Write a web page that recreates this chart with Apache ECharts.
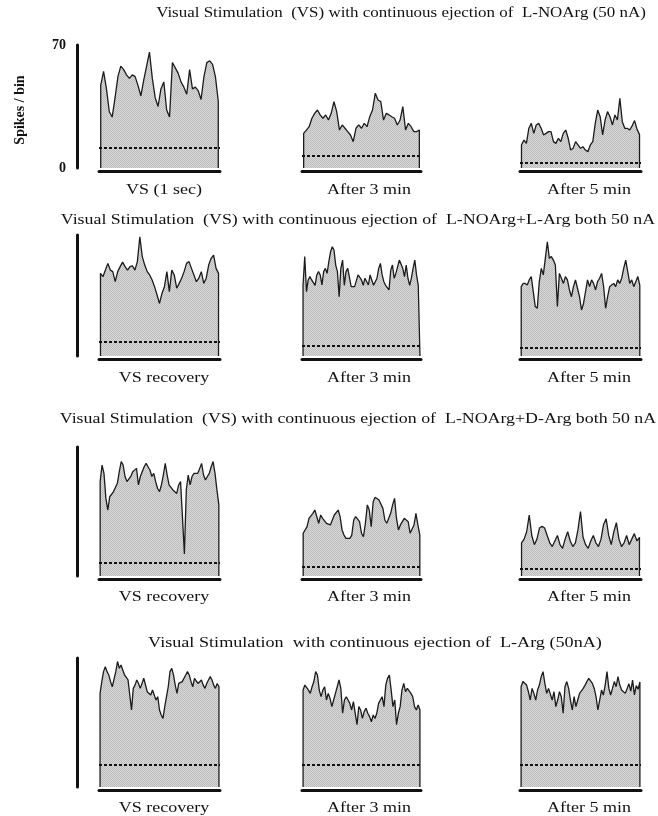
<!DOCTYPE html>
<html><head><meta charset="utf-8">
<script src="https://cdn.jsdelivr.net/npm/echarts@6/dist/echarts.min.js"></script>
<style>html,body{margin:0;padding:0;background:#fff}#c{width:658px;height:816px}</style>
</head><body><div id="c"></div>
<script>
// ---------- text ----------
const rowTitles = [
  "Visual Stimulation  (VS) with continuous ejection of  L-NOArg (50 nA)",
  "Visual Stimulation  (VS) with continuous ejection of  L-NOArg+L-Arg both 50 nA",
  "Visual Stimulation  (VS) with continuous ejection of  L-NOArg+D-Arg both 50 nA",
  "Visual Stimulation  with continuous ejection of  L-Arg (50nA)"
];
const panelLabels = [
  ["VS (1 sec)", "After 3 min", "After 5 min"],
  ["VS recovery", "After 3 min", "After 5 min"],
  ["VS recovery", "After 3 min", "After 5 min"],
  ["VS recovery", "After 3 min", "After 5 min"]
];
const yTicks = [0, 70];
const yAxisName = "Spikes / bin";

// ---------- data (spikes / bin) ----------
const r1c1 = [47,55,45,32,29,40,52,58,56,53,51,53,52,47,41,50,58,66,51,40,35,45,49,33,29,60,57,54,49,46,42,56,45,46,44,39,52,60,61,59,52,38];
const r1c2 = [19.7,21.6,23.5,28.3,31.1,33,30.2,28.3,30.2,27.3,31.1,37.8,32.1,21.6,24.5,22.6,20.7,18.8,15,22.6,24.5,22.6,25.4,23.5,29.2,33,42.5,38.7,37.8,27.3,31.1,30.2,29.2,28.3,24.5,27.3,34.9,21.6,25.4,23.5,20.7,20.7,21.6];
const r1c3 = [13.1,15.9,14,22.6,25.4,19.7,24.5,25.4,22.6,18.8,19.7,20.7,20.7,15,14,16.9,15,19.7,21.6,16.9,10.2,11.2,15,13.1,11.2,12.1,10.2,9.3,13.1,15,25.4,33,29.2,18.8,27.3,32.1,29.2,24.5,30.2,27.3,39.7,26.3,22.6,22.6,21.6,24,27,22,19];
const r2c1 = [47.8,45.9,49.7,53.6,49.7,48.8,43,48.8,51.7,54.3,51.7,49.7,51.7,52.2,49.7,54.6,69,57.5,52.6,48.8,46.9,44,40.1,35.3,30.4,36.2,40.1,48.8,37.2,49.7,46.9,39.2,42,45,48.8,53.6,54.6,50.7,46.9,43,45,48.8,42,45,52.6,56.5,58.4,50.7,47.8];
const r2c2 = [40.9,57.5,37.2,44,45.9,44,44,40.9,46.9,48.8,46.9,41.1,48.8,50.7,47.8,54.6,60.3,63.2,61.3,52.6,48.8,34.3,50.7,55.5,40.9,48.8,50.7,50.7,40.1,40.9,40.1,39.2,46.9,45.9,44,40.9,45,45.9,41.1,46.9,47.8,40.9,40.1,45,50.7,53.6,46.9,43,40.9,41.1,38.2,49.7,52.6,45,47.8,47.8,55.5,56.5,50.7,45.9,52.6,45,40.9,45,50.7,55.5,46.9,40.9,40.1];
const r2c3 = [40.1,42,42,41.1,44,45.9,37.2,28.6,27.6,43,50.7,46.9,56.5,66.1,56.5,57.5,55.5,52.6,28.6,47.8,45,42,45.9,44,38.2,34.3,40.1,44,39.2,34.3,26.6,30.4,37.2,44,40.1,44,42,38.2,43,45,47.8,40.1,27.6,34.3,40.1,41.1,42,40.1,44,42,45,50.7,55.5,48.8,42,44,40.1,43,46,41];
const r3c1 = [51.2,60.2,55.7,42.1,35.8,43,42.1,45.8,44.8,50.3,56.6,62.1,60.2,54,51.2,52.1,54,56.6,57.5,58.4,49.4,54,54.8,59.3,61.1,59.3,57.5,54,55.7,51.2,47.5,45.8,49.4,54.8,61.1,54.8,49.4,49.4,46.7,45.8,44.8,49.4,51.2,52.1,12,46.7,54.8,49.4,54,55.7,54.8,55.7,58.4,61.1,54.8,52.1,54,55.7,59.3,62.1,55.7,46.7,38.6];
const r3c2 = [23.2,24.1,26.8,31.3,32.2,34,35.8,34.9,28.6,33.1,31.3,30.4,28.6,29.5,27.7,30.4,33.1,34,35.8,32.2,25,22.2,20.4,19.5,20.4,22.2,30.4,32.2,31.3,29.5,23.2,21.3,28.6,38.6,35.8,26.8,40.3,42.7,42.1,41.2,40.3,36.7,30.4,28.6,31.3,34,38.6,42.1,31.3,25,27.7,29.5,31.3,32.2,29.5,23.2,22.2,27.7,34,27.7,22.2];
const r3c3 = [18,20,24,33,22,17,20,26,27,26,22,18,16,19,22,17,15,20,24,19,16,18,25,35,21,17,15,19,22,18,16,20,28,31,22,17,24,29,20,16,18,22,17,20,23,19,21];
const r4c1 = [50.8,57.2,62.6,65.3,62.6,60.8,57.2,54.4,53.5,62.6,68.1,64.4,66.2,63.5,60.8,59.9,58.1,59,41.8,53.5,55.3,58.1,56.2,53.5,54.4,59,59.9,51.7,52.6,49.9,52.6,49.9,47.2,49,41.8,39.1,37.2,43.6,49,54.4,62.6,64.4,60.8,55.3,50.8,56.2,57.2,57.2,58.1,60.8,62.6,60.8,57.2,54.4,59,59.9,56.2,55.3,58.1,55.3,53.5,56.2,58.1,59.9,58.1,55.3,53.5,56.2,54.4];
const r4c2 = [52.6,55.3,54.4,52.6,50.8,54.4,57.2,62.6,60.8,52.6,49,52.6,54.4,47.2,50.8,48.1,43.6,47.2,50.8,54.4,58.1,53.5,40,47.2,49,47.2,45.4,41.8,46.3,40,33.8,43.6,41.8,37.2,40.9,42.7,40,38.2,35.4,39.1,37.2,40,45.4,47.2,49,43.6,55.3,59,60.8,52.6,43.6,47.2,33.8,40,43.6,52.6,56.2,51.7,53.5,54.4,50.8,49,43.6,41.8,44.5,41.8];
const r4c3 = [54.4,57.2,56.2,55.3,51.7,47.2,53.5,50.8,47.2,52.6,55.3,59.9,62.6,56.2,50.8,53.5,52.6,47.2,51.7,43.6,47.2,51.7,49,40,54.4,57.2,53.5,47.2,41.8,49,43.6,47.2,50.8,51.7,53.5,55.3,57.2,59,58.1,56.2,53.5,49,41.8,47.2,52.6,49.9,55.3,62.6,53.5,49.9,53.5,57.2,54.4,59.9,55.3,52.6,51.7,50.8,50.8,56,52,58,50,55,53,57];
// spontaneous activity level (dashed line) per panel
const spontRow1 = [11.5, 7, 3];
const spontRow2 = [8, 6, 5];
const spontRow3 = [7, 5, 4];
const spontRow4 = [12, 12, 12];

// ---------- layout ----------
const panels = [[r1c1,r1c2,r1c3],[r2c1,r2c2,r2c3],[r3c1,r3c2,r3c3],[r4c1,r4c2,r4c3]];
const sponts = [spontRow1, spontRow2, spontRow3, spontRow4];
const rowTop = [45, 235, 447, 658];
const rowH = [123, 121, 129, 129];
const colLeft = [99, 302, 520];
const colW = [121, 119, 121];
const titleX = [401, 358, 358, 375];
const titleY = [13, 220, 419, 643];
const titleStretch = [1.13, 1.19, 1.19, 1.21];
const labelX = [164, 369, 589];
const labelY = [190, 378, 597, 808];
const SERIF = '"Liberation Serif","Times New Roman",serif';

// fine halftone stipple fill (fixed 2x2 dot pattern)
const pat = document.createElement('canvas');
pat.width = 2; pat.height = 2;
const pc = pat.getContext('2d');
pc.fillStyle = '#dadada'; pc.fillRect(0, 0, 2, 2);
pc.fillStyle = '#bababa'; pc.fillRect(0, 0, 1, 1); pc.fillRect(1, 1, 1, 1);

const grids = [], xAxes = [], yAxes = [], series = [];
panels.forEach((row, r) => row.forEach((vals, c) => {
  const k = grids.length;
  const n = vals.length;
  grids.push({left: colLeft[c], top: rowTop[r], width: colW[c], height: rowH[r]});
  xAxes.push({gridIndex: k, type: 'value', min: -0.6, max: n - 0.4, offset: 3,
    axisLine: {show: true, onZero: false, lineStyle: {color: '#111', width: 3}},
    axisTick: {show: false}, axisLabel: {show: false}, splitLine: {show: false}});
  yAxes.push({gridIndex: k, type: 'value', min: yTicks[0], max: yTicks[1], interval: yTicks[1] - yTicks[0],
    show: c === 0, offset: 22, position: 'left',
    axisLine: {show: true, onZero: false, lineStyle: {color: '#111', width: 3}},
    axisTick: {show: false},
    axisLabel: {show: r === 0, margin: 11, color: '#111', fontFamily: SERIF, fontWeight: 'bold', fontSize: 14},
    splitLine: {show: false}});
  const pts = [[0, 0]].concat(vals.map((v, i) => [i, v]), [[n - 1, 0]]);
  series.push({type: 'line', xAxisIndex: k, yAxisIndex: k, data: pts, symbol: 'none', animation: false,
    lineStyle: {color: '#1c1c1c', width: 1.3},
    areaStyle: {color: {image: pat, repeat: 'repeat'}, opacity: 1},
    markLine: {silent: true, symbol: ['none', 'none'], label: {show: false}, animation: false,
      lineStyle: {color: '#111', type: [3, 2], width: 1.8},
      data: [{yAxis: sponts[r][c]}]}});
}));

const graphics = [];
const txt = (x, y, text, size, sx) => ({type: 'text', x: x, y: y, scaleX: sx,
  style: {text: text, font: size + 'px ' + SERIF,
    fill: '#111', align: 'center', verticalAlign: 'middle', textAlign: 'center', textVerticalAlign: 'middle'}});
rowTitles.forEach((t, r) => graphics.push(txt(titleX[r], titleY[r], t, 15, titleStretch[r])));
panelLabels.forEach((row, r) => row.forEach((t, c) => graphics.push(txt(labelX[c], labelY[r], t, 15, 1.2))));
graphics.push({type: 'text', x: 20, y: 110, rotation: Math.PI / 2,
  style: {text: yAxisName, font: 'bold 14px ' + SERIF, fill: '#111', align: 'center', verticalAlign: 'middle', textAlign: 'center', textVerticalAlign: 'middle'}});

const chart = echarts.init(document.getElementById('c'), null, {renderer: 'canvas'});
chart.setOption({animation: false, backgroundColor: '#fff', grid: grids, xAxis: xAxes, yAxis: yAxes, series: series, graphic: graphics});
</script></body></html>
